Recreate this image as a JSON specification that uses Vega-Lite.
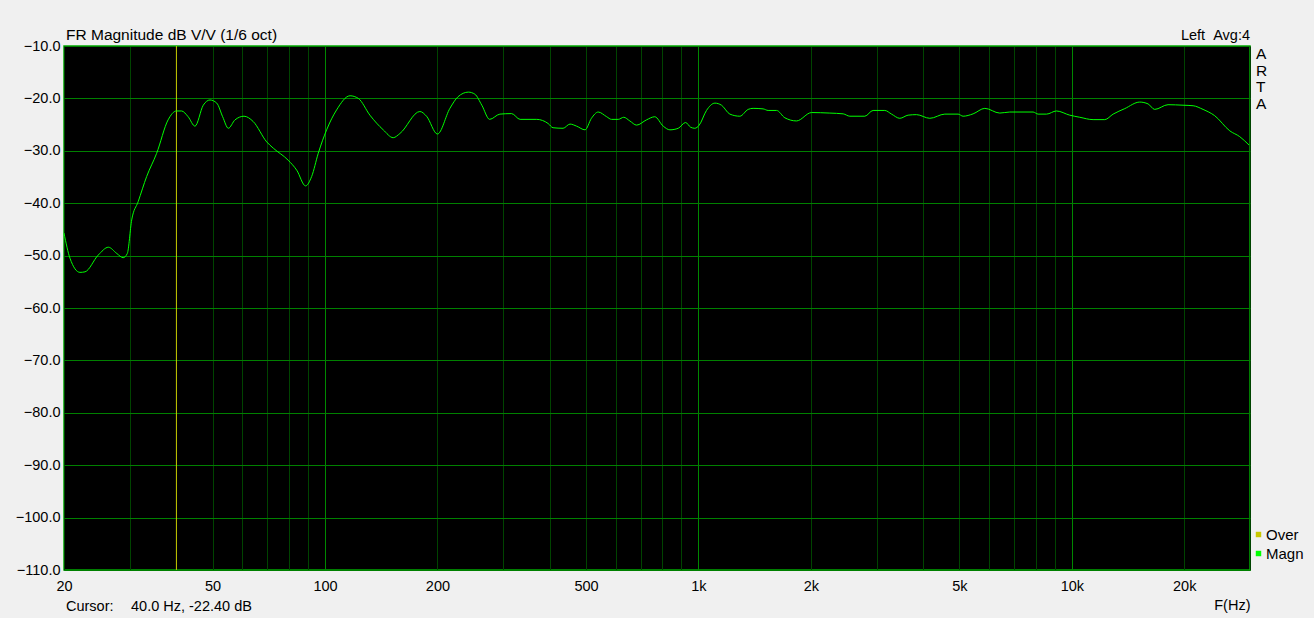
{
  "$schema": "https://vega.github.io/schema/vega-lite/v6.json",
  "width": 1186,
  "height": 524,
  "autosize": {"type": "none"},
  "padding": {"left": 64, "top": 46, "right": 64, "bottom": 48},
  "background": "#F0F0F0",
  "config": {
    "font": "Liberation Sans",
    "view": {"fill": "#000000", "stroke": "#00A800", "strokeWidth": 1.5},
    "axis": {"labelColor": "#000000", "titleColor": "#000000", "labelFontSize": 14.5, "titleFontSize": 14.5, "titleFontWeight": "normal"}
  },
  "title": {
    "text": "FR Magnitude dB V/V (1/6 oct)",
    "anchor": "start",
    "frame": "group",
    "fontSize": 15.5,
    "fontWeight": "normal",
    "color": "#000000",
    "offset": -15,
    "dx": 2
  },
  "datasets": {
    "curve": [
      {"f": 20, "db": -45.7}, {"f": 20.75, "db": -50.5}, {"f": 22.07, "db": -53.2}, {"f": 22.76, "db": -53.1},
      {"f": 24.7, "db": -49.9}, {"f": 26.3, "db": -48.4}, {"f": 27.7, "db": -49.6}, {"f": 28.8, "db": -50.4},
      {"f": 29.55, "db": -49.6}, {"f": 30.36, "db": -43.2}, {"f": 31.6, "db": -39.7}, {"f": 33.3, "db": -34.9},
      {"f": 35.4, "db": -30.5}, {"f": 38.0, "db": -24.1}, {"f": 40.0, "db": -22.4}, {"f": 41.3, "db": -22.4},
      {"f": 43.0, "db": -23.5}, {"f": 44.85, "db": -25.3}, {"f": 47.2, "db": -21.3}, {"f": 49.2, "db": -20.3},
      {"f": 51.3, "db": -20.9}, {"f": 53.2, "db": -23.5}, {"f": 55.1, "db": -25.7}, {"f": 57.4, "db": -24.1},
      {"f": 60.7, "db": -23.4}, {"f": 64.2, "db": -24.4}, {"f": 69.8, "db": -28.3}, {"f": 72.7, "db": -29.5},
      {"f": 79.7, "db": -31.8}, {"f": 84, "db": -33.7}, {"f": 88.7, "db": -36.7}, {"f": 92.1, "db": -34.9},
      {"f": 95.9, "db": -30.5}, {"f": 101, "db": -26.0}, {"f": 107.4, "db": -22.2}, {"f": 116.7, "db": -19.5},
      {"f": 122.8, "db": -20.0}, {"f": 131.9, "db": -23.2}, {"f": 143.2, "db": -26.0}, {"f": 152.3, "db": -27.5},
      {"f": 158.7, "db": -26.7}, {"f": 179.5, "db": -22.5}, {"f": 187, "db": -23.4}, {"f": 200, "db": -26.8},
      {"f": 216, "db": -21.9}, {"f": 227, "db": -19.7}, {"f": 242, "db": -18.8}, {"f": 252, "db": -19.2},
      {"f": 263, "db": -21.3}, {"f": 276, "db": -24.0}, {"f": 294, "db": -23.0}, {"f": 316, "db": -22.9},
      {"f": 333, "db": -24.0}, {"f": 369, "db": -24.0}, {"f": 396, "db": -24.8}, {"f": 408, "db": -25.6},
      {"f": 434, "db": -25.7}, {"f": 453, "db": -24.9}, {"f": 472, "db": -25.3}, {"f": 497, "db": -26.0},
      {"f": 517, "db": -23.8}, {"f": 539, "db": -22.6}, {"f": 568, "db": -23.5}, {"f": 585, "db": -24.0},
      {"f": 610, "db": -24.0}, {"f": 631, "db": -23.6}, {"f": 655, "db": -24.3}, {"f": 683, "db": -25.1},
      {"f": 726, "db": -24.1}, {"f": 764, "db": -23.5}, {"f": 805, "db": -25.3}, {"f": 839, "db": -26.0},
      {"f": 883, "db": -25.7}, {"f": 924, "db": -24.6}, {"f": 953, "db": -25.5}, {"f": 978, "db": -25.7},
      {"f": 1005, "db": -25.1}, {"f": 1051, "db": -22.3}, {"f": 1107, "db": -20.9}, {"f": 1153, "db": -21.3},
      {"f": 1214, "db": -23.0}, {"f": 1291, "db": -23.4}, {"f": 1359, "db": -22.1}, {"f": 1401, "db": -21.9},
      {"f": 1490, "db": -22.0}, {"f": 1537, "db": -22.3}, {"f": 1619, "db": -22.3}, {"f": 1704, "db": -23.7},
      {"f": 1831, "db": -24.3}, {"f": 2009, "db": -22.7}, {"f": 2248, "db": -22.8}, {"f": 2442, "db": -22.95},
      {"f": 2544, "db": -23.4}, {"f": 2790, "db": -23.4}, {"f": 2936, "db": -22.3}, {"f": 3156, "db": -22.3},
      {"f": 3290, "db": -23.0}, {"f": 3462, "db": -23.8}, {"f": 3644, "db": -23.2}, {"f": 3838, "db": -23.1},
      {"f": 4166, "db": -23.8}, {"f": 4570, "db": -23.0}, {"f": 4960, "db": -23.0}, {"f": 5114, "db": -23.4},
      {"f": 5440, "db": -22.95}, {"f": 5848, "db": -21.9}, {"f": 6412, "db": -22.8}, {"f": 6820, "db": -22.6},
      {"f": 7876, "db": -22.6}, {"f": 8122, "db": -23.0}, {"f": 8554, "db": -23.0}, {"f": 9096, "db": -22.4},
      {"f": 9872, "db": -23.2}, {"f": 10500, "db": -23.6}, {"f": 11400, "db": -24.05}, {"f": 12250, "db": -24.05},
      {"f": 12900, "db": -23.0}, {"f": 13860, "db": -21.95}, {"f": 15200, "db": -20.7}, {"f": 16000, "db": -21.05},
      {"f": 16670, "db": -22.1}, {"f": 18100, "db": -21.2}, {"f": 19850, "db": -21.3}, {"f": 21120, "db": -21.4},
      {"f": 22460, "db": -22.1}, {"f": 24130, "db": -23.3}, {"f": 26490, "db": -26.2}, {"f": 28160, "db": -27.3},
      {"f": 29820, "db": -28.9}
    ]
  },
  "layer": [
    {
      "data": {"values": [{"f": 40}]},
      "mark": {"type": "rule", "color": "#C8C800", "strokeWidth": 1},
      "encoding": {
        "x": {
          "field": "f", "type": "quantitative",
          "scale": {"type": "log", "domain": [20, 30000], "nice": false},
          "axis": {
            "values": [20, 30, 40, 50, 60, 70, 80, 90, 100, 200, 300, 400, 500, 600, 700, 800, 900, 1000, 2000, 3000, 4000, 5000, 6000, 7000, 8000, 9000, 10000, 20000, 30000],
            "labelExpr": "indexof([20,50,100,200,500], datum.value) >= 0 ? '' + datum.value : (indexof([1000,2000,5000,10000,20000], datum.value) >= 0 ? (datum.value / 1000) + 'k' : '')",
            "labelOverlap": false,
            "labelFlush": false,
            "labelPadding": 9,
            "ticks": false,
            "domain": false,
            "grid": true,
            "gridColor": {"condition": {"test": "datum.value == 100 || datum.value == 1000 || datum.value == 10000", "value": "#008800"}, "value": "#004400"},
            "gridOpacity": 1,
            "title": "F(Hz)",
            "titleAnchor": "end",
            "titleAlign": "right",
            "titlePadding": 6
          }
        }
      }
    },
    {
      "data": {"values": [{"db": -10}]},
      "mark": {"type": "rule", "opacity": 0},
      "encoding": {
        "y": {
          "field": "db", "type": "quantitative",
          "scale": {"domain": [-110, -10], "nice": false},
          "axis": {
            "values": [-110, -100, -90, -80, -70, -60, -50, -40, -30, -20, -10],
            "format": ".1f",
            "labelPadding": 4,
            "ticks": false,
            "domain": false,
            "grid": true,
            "gridColor": "#008000",
            "gridOpacity": 1,
            "title": null
          }
        }
      }
    },
    {
      "data": {"name": "curve"},
      "mark": {"type": "line", "strokeWidth": 1, "interpolate": "monotone"},
      "encoding": {
        "x": {"field": "f", "type": "quantitative"},
        "y": {"field": "db", "type": "quantitative"},
        "color": {
          "datum": "Magn",
          "scale": {"domain": ["Over", "Magn"], "range": ["#C8C800", "#00FF00"]},
          "legend": {
            "title": null,
            "orient": "none",
            "legendX": 1187,
            "legendY": 481,
            "padding": 0,
            "symbolType": "square",
            "symbolSize": 6,
            "symbolStrokeWidth": 3,
            "labelFontSize": 15,
            "labelColor": "#000000",
            "labelOffset": 0,
            "rowPadding": 3
          }
        }
      }
    },
    {
      "data": {"values": [{"f": 30000, "db": -10, "t": "Left\u00a0\u00a0Avg:4"}]},
      "mark": {"type": "text", "align": "right", "baseline": "alphabetic", "dy": -6, "fontSize": 14.5, "color": "#000000"},
      "encoding": {"x": {"field": "f", "type": "quantitative"}, "y": {"field": "db", "type": "quantitative"}, "text": {"field": "t"}}
    },
    {
      "data": {"values": [{"f": 30000, "db": -10, "t": "A\nR\nT\nA"}]},
      "mark": {"type": "text", "align": "left", "baseline": "top", "dx": 6, "dy": 1, "fontSize": 15.5, "lineHeight": 16.7, "lineBreak": "\n", "color": "#000000"},
      "encoding": {"x": {"field": "f", "type": "quantitative"}, "y": {"field": "db", "type": "quantitative"}, "text": {"field": "t"}}
    },
    {
      "data": {"values": [{"f": 20, "db": -110, "t": "Cursor:"}]},
      "mark": {"type": "text", "align": "left", "baseline": "middle", "dx": 2, "dy": 37, "fontSize": 14.5, "color": "#000000"},
      "encoding": {"x": {"field": "f", "type": "quantitative"}, "y": {"field": "db", "type": "quantitative"}, "text": {"field": "t"}}
    },
    {
      "data": {"values": [{"f": 20, "db": -110, "t": "40.0 Hz, -22.40 dB"}]},
      "mark": {"type": "text", "align": "left", "baseline": "middle", "dx": 67, "dy": 37, "fontSize": 14.5, "color": "#000000"},
      "encoding": {"x": {"field": "f", "type": "quantitative"}, "y": {"field": "db", "type": "quantitative"}, "text": {"field": "t"}}
    }
  ]
}
